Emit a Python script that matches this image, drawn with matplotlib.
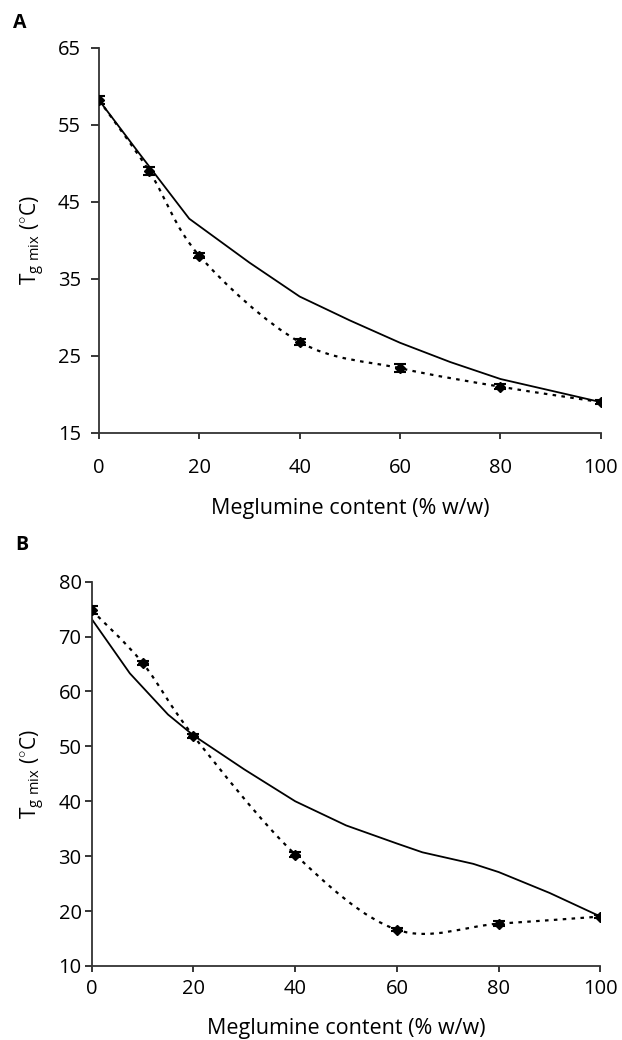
import numpy as np
import matplotlib
matplotlib.use("Agg")
import matplotlib.pyplot as plt
from matplotlib.path import Path
from matplotlib.patches import PathPatch

plt.rcParams["font.family"] = ["Open Sans", "DejaVu Sans"]
plt.rcParams["mathtext.fontset"] = "custom"
plt.rcParams["mathtext.rm"] = "Open Sans"
plt.rcParams["mathtext.it"] = "Open Sans"

# measured Tg of the mixtures (points with error bars)
meg_exp = [0, 10, 20, 40, 60, 80, 100]
a_tg = [58.2, 49.0, 38.0, 26.8, 23.4, 21.0, 19.0]
a_err = [0.5, 0.5, 0.3, 0.4, 0.5, 0.3, 0.3]
b_tg = [74.8, 65.2, 51.9, 30.3, 16.6, 17.7, 19.0]
b_err = [0.7, 0.4, 0.4, 0.5, 0.3, 0.4, 0.2]

# predicted Tg (solid lines)
a_pred_x = [0, 8, 18, 30, 40, 50, 60, 70, 80, 90, 100]
a_pred_y = [58.2, 51.3, 42.8, 37.1, 32.7, 29.6, 26.7, 24.2, 22.0, 20.5, 19.0]
b_pred_x = [0, 7.5, 15, 20, 30, 40, 50, 60, 65, 75, 80, 90, 100]
b_pred_y = [73.2, 63.3, 55.8, 52.0, 45.8, 40.0, 35.6, 32.3, 30.7, 28.6, 27.1, 23.3, 19.0]

x_ticks = [0, 20, 40, 60, 80, 100]
a_yticks = [15, 25, 35, 45, 55, 65]
b_yticks = [10, 20, 30, 40, 50, 60, 70, 80]


def smooth_path(xs, ys):
    # spreadsheet-style smoothed line: cubic bezier through every point
    pts = np.column_stack([xs, ys]).astype(float)
    ext = np.vstack([pts[0], pts, pts[-1]])
    verts = [pts[0]]
    codes = [Path.MOVETO]
    for i in range(len(pts) - 1):
        p0, p1, p2, p3 = ext[i], ext[i + 1], ext[i + 2], ext[i + 3]
        verts += [p1 + (p2 - p0) / 6, p2 - (p3 - p1) / 6, p2]
        codes += [Path.CURVE4] * 3
    return Path(verts, codes)


def draw_panel(ax, tg, err, px, py, yticks, xpad, ypad, ylen, xlabpad):
    ax.plot(px, py, color="black", lw=1.3, solid_joinstyle="miter")
    ax.add_patch(PathPatch(smooth_path(meg_exp, tg), fill=False, ec="black",
                           lw=1.6, linestyle=(0, (1.6, 2.4))))
    ax.errorbar(meg_exp, tg, yerr=err, fmt="D", ms=5, color="black",
                ecolor="black", elinewidth=1.2, capsize=4.5, capthick=1.5,
                linestyle="none", zorder=5)
    ax.set_xlim(0, 100)
    ax.set_ylim(yticks[0], yticks[-1])
    ax.set_xticks(x_ticks)
    ax.set_yticks(yticks)
    ax.spines["top"].set_visible(False)
    ax.spines["right"].set_visible(False)
    for side in ["left", "bottom"]:
        ax.spines[side].set_linewidth(1.3)
        ax.spines[side].set_color("#333333")
    ax.tick_params(axis="y", direction="out", length=ylen, width=1.1,
                   labelsize=14.5, pad=ypad)
    ax.tick_params(axis="x", direction="out", length=4.3, width=1.1,
                   labelsize=14.5, pad=xpad)
    ax.set_xlabel("Meglumine content (% w/w)", fontsize=15.5, labelpad=xlabpad)
    ax.set_ylabel(r"T$_{\mathrm{g\ mix}}$ ($^{\circ}$C)", fontsize=15, labelpad=8)


fig = plt.figure(figsize=(6.22, 10.4), dpi=100)
ax_a = fig.add_axes([0.159, 0.5837, 0.807, 0.3705])
ax_b = fig.add_axes([0.1474, 0.0712, 0.818, 0.3695])

draw_panel(ax_a, a_tg, a_err, a_pred_x, a_pred_y, a_yticks,
           xpad=14, ypad=7, ylen=5.8, xlabpad=14)
draw_panel(ax_b, b_tg, b_err, b_pred_x, b_pred_y, b_yticks,
           xpad=5, ypad=2.5, ylen=4.8, xlabpad=14)

fig.text(0.032, 0.978, "A", fontsize=14, fontweight="bold", ha="center", va="center")
fig.text(0.035, 0.476, "B", fontsize=14, fontweight="bold", ha="center", va="center")

fig.savefig("out.png", dpi=100)
